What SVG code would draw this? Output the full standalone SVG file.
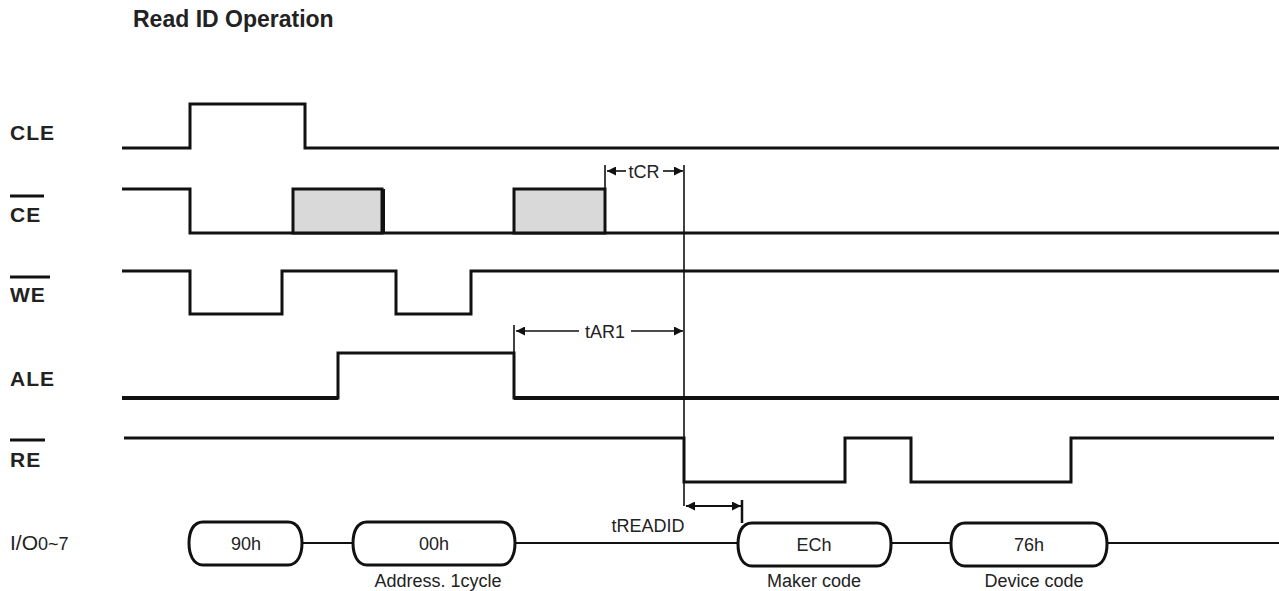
<svg xmlns="http://www.w3.org/2000/svg" width="1279" height="591" viewBox="0 0 1279 591">
<style>
.lbl{font-family:"Liberation Sans",Arial,sans-serif;font-size:21px;font-weight:bold;fill:#222;letter-spacing:1px}
.ttl{font-family:"Liberation Sans",Arial,sans-serif;font-size:23px;font-weight:bold;fill:#222}
.t{font-family:"Liberation Sans",Arial,sans-serif;font-size:18px;fill:#222}
.sig{fill:none;stroke:#111;stroke-width:3}
.ov{stroke:#111;stroke-width:3}
.thin{fill:none;stroke:#111;stroke-width:1.6}
.bub{fill:#fff;stroke:#111;stroke-width:3}
.bus{fill:none;stroke:#111;stroke-width:2.2}
.box{fill:#d9d9d9;stroke:#111;stroke-width:3}
</style>
<defs>
<marker id="ah" viewBox="0 0 10 10" refX="10" refY="5" markerWidth="10" markerHeight="9" markerUnits="userSpaceOnUse" orient="auto-start-reverse">
<path d="M0,0 L10,5 L0,10 Z" fill="#111"/>
</marker>
</defs>
<rect width="1279" height="591" fill="#fff"/>
<text class="ttl" x="133" y="27">Read ID Operation</text>

<g id="CLE">
<text class="lbl" x="10" y="140">CLE</text>
<path class="sig" d="M122,148 H190 V104 H305 V148 H1279"/>
</g>

<g id="CE">
<line class="ov" x1="10" y1="196" x2="44" y2="196"/>
<text class="lbl" x="10" y="222">CE</text>
<path class="sig" d="M122,189 H190 V233 H1279"/>
<rect class="box" x="293" y="189" width="89" height="44"/>
<line class="ov" x1="383" y1="189" x2="383" y2="233" style="stroke-width:4"/>
<rect class="box" x="514" y="189" width="91" height="44"/>
</g>

<g id="WE">
<line class="ov" x1="10" y1="277" x2="50" y2="277"/>
<text class="lbl" x="10" y="302">WE</text>
<path class="sig" d="M122,271 H190 V314 H282 V271 H396 V314 H471 V271 H1279"/>
</g>

<g id="ALE">
<text class="lbl" x="10" y="386">ALE</text>
<path class="sig" d="M122,398 H338 V353 H514 V398 H1279"/>
<path class="sig" d="M122,398 H338 M514,398 H1279" style="stroke-width:4"/>
</g>

<g id="RE">
<line class="ov" x1="10" y1="440" x2="45" y2="440"/>
<text class="lbl" x="10" y="467">RE</text>
<path class="sig" d="M124,438 H684 V482 H845 V438 H911 V482 H1071 V438 H1274"/>
</g>

<g id="IO">
<text class="lbl" x="10" y="550" style="font-weight:normal;letter-spacing:0">I/O<tspan style="font-size:18px">0~7</tspan></text>
<path class="bus" d="M302,543 H353 M515,543 H737 M891,543 H951 M1107,543 H1279"/>
<g id="b90h">
<path class="bub" d="M203,522 H288 C298,522 302,532 302,543 C302,554 298,565 288,565 H203 C193,565 189,554 189,543 C189,532 193,522 203,522 Z"/>
<text class="t" x="246" y="550" text-anchor="middle">90h</text>
</g>
<g id="b00h">
<path class="bub" d="M367,522 H501 C511,522 515,532 515,543 C515,554 511,565 501,565 H367 C357,565 353,554 353,543 C353,532 357,522 367,522 Z"/>
<text class="t" x="434" y="550" text-anchor="middle">00h</text>
<text class="t" x="438" y="587" text-anchor="middle">Address. 1cycle</text>
</g>
<g id="bECh">
<path class="bub" d="M752,523 H877 C887,523 891,533 891,544 C891,555 887,566 877,566 H752 C742,566 738,555 738,544 C738,533 742,523 752,523 Z"/>
<text class="t" x="814" y="551" text-anchor="middle">ECh</text>
<text class="t" x="814" y="587" text-anchor="middle">Maker code</text>
</g>
<g id="b76h">
<path class="bub" d="M965,523 H1093 C1103,523 1107,533 1107,544 C1107,555 1103,566 1093,566 H965 C955,566 951,555 951,544 C951,533 955,523 965,523 Z"/>
<text class="t" x="1029" y="551" text-anchor="middle">76h</text>
<text class="t" x="1034" y="587" text-anchor="middle">Device code</text>
</g>
</g>

<g id="connectors">
<line class="thin" x1="605" y1="165" x2="605" y2="189"/>
<line class="thin" x1="684" y1="165" x2="684" y2="506"/>
<line class="thin" x1="514" y1="325" x2="514" y2="353"/>
<line class="thin" x1="742" y1="500" x2="742" y2="523" style="stroke-width:2.5"/>
<line class="thin" x1="626" y1="171" x2="607" y2="171" marker-end="url(#ah)"/>
<line class="thin" x1="663" y1="171" x2="683" y2="171" marker-end="url(#ah)"/>
<text class="t" x="644" y="178" text-anchor="middle">tCR</text>
<line class="thin" x1="579" y1="331" x2="516" y2="331" marker-end="url(#ah)"/>
<line class="thin" x1="631" y1="331" x2="683" y2="331" marker-end="url(#ah)"/>
<text class="t" x="605" y="338" text-anchor="middle">tAR1</text>
<line class="thin" x1="686" y1="506" x2="741" y2="506" marker-start="url(#ah)" marker-end="url(#ah)" style="stroke-width:2.2"/>
<text class="t" x="648" y="532" text-anchor="middle">tREADID</text>
</g>
</svg>
